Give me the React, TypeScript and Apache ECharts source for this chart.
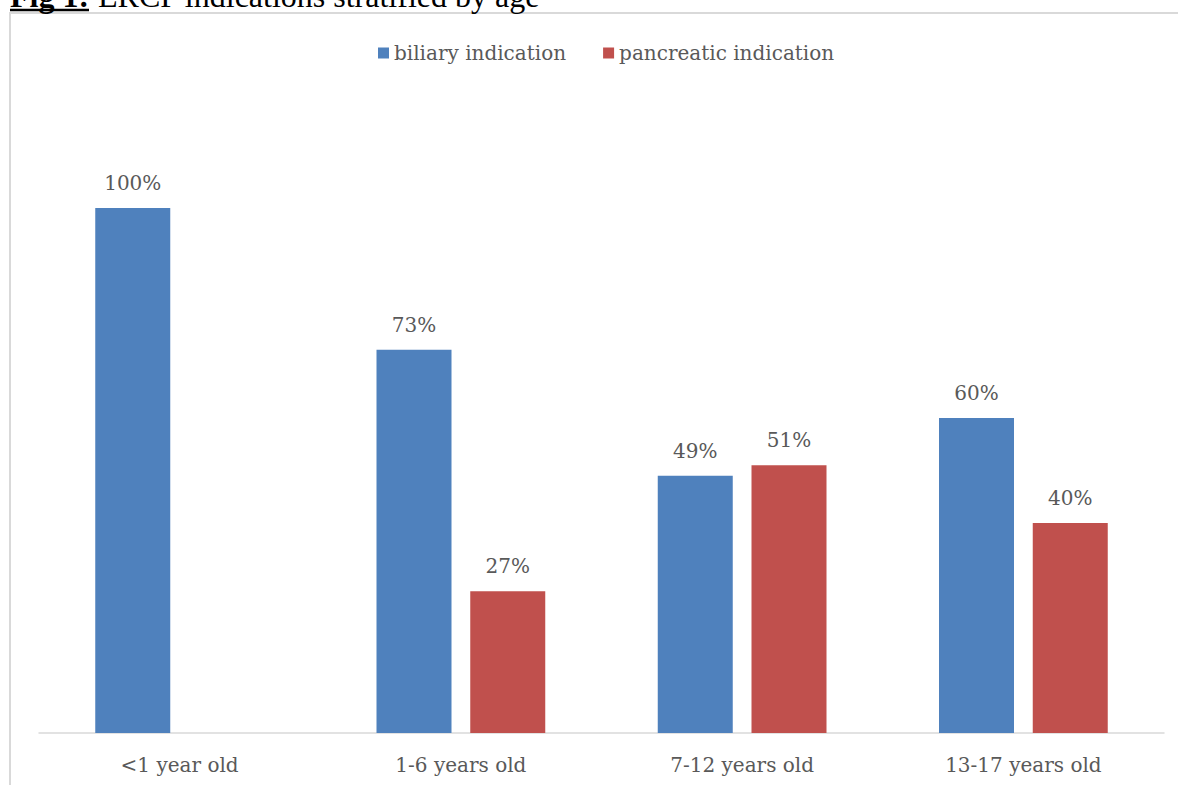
import React, { useEffect, useRef } from "react";
import * as echarts from "echarts";

const categories = ["<1 year old", "1-6 years old", "7-12 years old", "13-17 years old"];
const biliary = [100, 73, 49, 60];
const pancreatic = [null, 27, 51, 40];
const seriesNames = ["biliary indication", "pancreatic indication"];
const titleBold = "Fig 1:";
const titleRest = "ERCP indications stratified by age";

const FONT = "DejaVu Serif";

export default function App() {
  const ref = useRef<HTMLDivElement>(null);
  useEffect(() => {
    const chart = echarts.init(ref.current!, null, { renderer: "svg" });
    const label = {
      show: true,
      position: "top",
      distance: 15,
      color: "#595959",
      fontFamily: FONT,
      fontSize: 20,
      formatter: (p: any) => (p.value == null ? "" : p.value + "%"),
    };
    chart.setOption({
      animation: false,
      backgroundColor: "#ffffff",
      textStyle: { fontFamily: FONT },
      graphic: [
        {
          type: "rect",
          shape: { x: 10, y: 13, width: 1300, height: 900 },
          style: { fill: "none", stroke: "#d9d9d9", lineWidth: 2 },
          silent: true,
        },
        {
          type: "text",
          x: 10,
          y: -4,
          style: {
            text: titleBold,
            font: "bold 32px 'Liberation Serif'",
            fill: "#000",
            verticalAlign: "middle",
            align: "left",
          },
        },
        {
          type: "line",
          shape: { x1: 10, y1: 10, x2: 89, y2: 10 },
          style: { stroke: "#000", lineWidth: 2.5 },
        },
        {
          type: "text",
          x: 98,
          y: -4,
          style: {
            text: titleRest,
            font: "32px 'Liberation Serif'",
            fill: "#000",
            verticalAlign: "middle",
            align: "left",
          },
        },
      ],
      legend: {
        left: 373,
        top: 38,
        itemWidth: 11,
        itemHeight: 11,
        itemGap: 37,
        icon: "rect",
        textStyle: { color: "#595959", fontSize: 20, fontFamily: FONT, padding: [0, 0, 0, 0] },
        data: seriesNames,
      },
      grid: { left: 39, right: 14, top: 208, bottom: 52, containLabel: false },
      xAxis: {
        type: "category",
        data: categories,
        axisLine: { lineStyle: { color: "#d9d9d9", width: 1.5 } },
        axisTick: { show: false },
        axisLabel: { color: "#595959", fontSize: 20, fontFamily: FONT, margin: 22 },
      },
      yAxis: { type: "value", min: 0, max: 100, show: false },
      series: [
        {
          name: seriesNames[0],
          type: "bar",
          data: biliary,
          barWidth: 75,
          barGap: "25%",
          itemStyle: { color: "#4F81BD" },
          label,
        },
        {
          name: seriesNames[1],
          type: "bar",
          data: pancreatic,
          barWidth: 75,
          itemStyle: { color: "#C0504D" },
          label,
        },
      ],
    });
    return () => chart.dispose();
  }, []);
  return (
    <div
      ref={ref}
      style={{ position: "fixed", left: 0, top: 0, width: 1178, height: 785 }}
    />
  );
}
